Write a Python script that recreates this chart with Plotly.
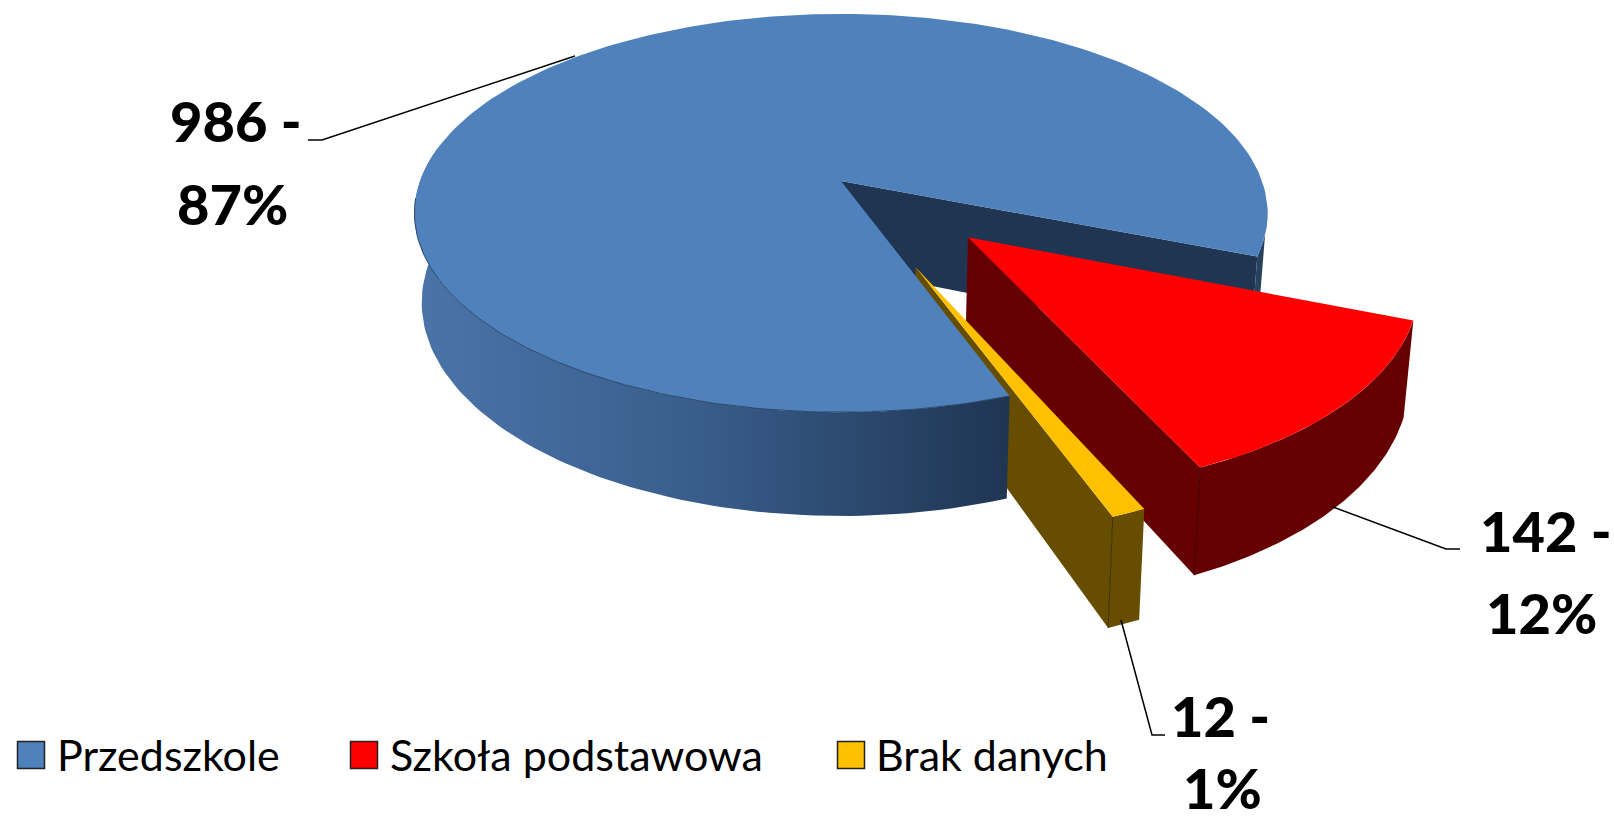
import numpy as np
import plotly.graph_objects as go

CATEGORIES = ["Przedszkole", "Szkoła podstawowa", "Brak danych"]
VALUES = [986, 142, 12]
PERCENT_LABELS = [87, 12, 1]
TOP_COLORS = ["#4f81bd", "#ff0000", "#ffc000"]
WALL_COLORS = ["#1f3552", "#660000", "#664d00"]
EXPLODE = [0.0, 0.40, 0.445]

W, H = 1614, 821
CX, CY, A, B, K = 841, 181, 421, 194, 0.161
DEPTH, BOTTOM_SCALE = 87, 0.983
FIRST_ANGLE = 21.5
FONT = "Lato"


def project(u, v, low=False):
    w = 1 / (1 - K * v)
    x = A * u * w
    y = B * v * w
    if low:
        return CX + x * BOTTOM_SCALE, CY + y + DEPTH * w
    return CX + x, CY + y


total = sum(VALUES)
red_sweep = VALUES[1] / total * 360
yellow_sweep = VALUES[2] / total * 360
blue_sweep = VALUES[0] / total * 360
ANGLES = {
    1: (FIRST_ANGLE, FIRST_ANGLE + red_sweep),
    2: (FIRST_ANGLE + red_sweep, FIRST_ANGLE + red_sweep + yellow_sweep),
    0: (FIRST_ANGLE + red_sweep + yellow_sweep, FIRST_ANGLE + red_sweep + yellow_sweep + blue_sweep),
}


def offset(i):
    mid = np.radians(sum(ANGLES[i]) / 2)
    return EXPLODE[i] * np.cos(mid), EXPLODE[i] * np.sin(mid)


def arc(i, t0, t1, low=False, n=90):
    ou, ov = offset(i)
    ts = np.radians(np.linspace(t0, t1, n))
    pts = [project(ou + np.cos(t), ov + np.sin(t), low) for t in ts]
    return [p[0] for p in pts], [p[1] for p in pts]


def centre(i, low=False):
    ou, ov = offset(i)
    return project(ou, ov, low)


def poly(xs, ys, color, gradient=None):
    kw = dict(fillgradient=gradient) if gradient else dict(fillcolor=color)
    return go.Scatter(x=list(xs) + [xs[0]], y=list(ys) + [ys[0]], mode="lines", fill="toself",
                      line=dict(width=0, color=color), hoverinfo="skip", showlegend=False, **kw)


def radial_wall(i, angle, color):
    tx, ty = arc(i, angle, angle, n=1)
    bx, by = arc(i, angle, angle, low=True, n=1)
    c, cl = centre(i), centre(i, True)
    return poly([c[0], tx[0], bx[0], cl[0]], [c[1], ty[0], by[0], cl[1]], color)


def outer_wall(i, t0, t1, color, gradient=None):
    tx, ty = arc(i, t0, t1)
    bx, by = arc(i, t0, t1, low=True)
    return poly(tx + bx[::-1], ty + by[::-1], color, gradient)


def top_face(i):
    t0, t1 = ANGLES[i]
    tx, ty = arc(i, t0, t1, n=240)
    c = centre(i)
    return poly([c[0]] + tx, [c[1]] + ty, TOP_COLORS[i])


def corner_line(i, ang, col):
    tx, ty = arc(i, ang, ang, n=1)
    bx, by = arc(i, ang, ang, low=True, n=1)
    return go.Scatter(x=[tx[0], bx[0]], y=[ty[0], by[0]], mode="lines",
                      line=dict(color=col, width=1), hoverinfo="skip", showlegend=False)


fig = go.Figure()
b0, b1 = ANGLES[0]
r0, r1 = ANGLES[1]
y0, y1 = ANGLES[2]

# inner wall of the gap and the far-right sliver of the blue slice
fig.add_trace(radial_wall(0, b1, WALL_COLORS[0]))
fig.add_trace(outer_wall(0, b1 - 14, b1, "#27425f"))

# red slice
fig.add_trace(radial_wall(1, r1, WALL_COLORS[1]))
fig.add_trace(outer_wall(1, r0, r1, WALL_COLORS[1]))
fig.add_trace(top_face(1))
fig.add_trace(corner_line(1, r1, "#3a0000"))

# yellow walls, hidden by the blue slice where they pass behind it
fig.add_trace(radial_wall(2, y1, WALL_COLORS[2]))
fig.add_trace(outer_wall(2, y0, y1, WALL_COLORS[2]))
fig.add_trace(corner_line(2, y1, "#3f3000"))

# blue slice front
fig.add_trace(outer_wall(0, b0, 190, "#3a6090", gradient=dict(
    type="horizontal",
    colorscale=[[0, "#4a74a8"], [0.45, "#3a5f8e"], [1, "#1f3552"]])))
fig.add_trace(top_face(0))
ex, ey = arc(0, b0, 175)
fig.add_trace(go.Scatter(x=ex, y=ey, mode="lines", line=dict(color="#2b4768", width=1),
                         hoverinfo="skip", showlegend=False))

# yellow top lies over the blue edge
fig.add_trace(top_face(2))

# leader lines
LEADERS = [
    ([308, 322, 575], [140, 140, 56]),
    ([1333, 1446, 1460], [507, 549, 549]),
    ([1121, 1152, 1165], [620, 735, 735]),
]
for lx, ly in LEADERS:
    fig.add_trace(go.Scatter(x=lx, y=ly, mode="lines", line=dict(color="black", width=1.5),
                             hoverinfo="skip", showlegend=False))

annotations = []


def label(x, y, text, size, anchor="center", weight=400):
    annotations.append(dict(x=x, y=y, text=text, showarrow=False,
                            xanchor=anchor, yanchor="middle", xref="x", yref="y",
                            font=dict(family=FONT, size=size, color="black", weight=weight)))


LABEL_POS = [((236, 120), (232, 203)), ((1546, 530), (1541, 612)), ((1220, 715), (1222, 787))]
for i, (first, second) in enumerate(LABEL_POS):
    label(first[0], first[1], f"{VALUES[i]} -", 56, weight=900)
    label(second[0], second[1], f"{PERCENT_LABELS[i]}%", 56, weight=900)

# legend
SWATCH_X = [31, 364, 851]
TEXT_X = [55, 388, 874]
LEGEND_Y = 755
fig.add_trace(go.Scatter(x=SWATCH_X, y=[LEGEND_Y] * 3, mode="markers",
                         marker=dict(symbol="square", size=27, color=TOP_COLORS,
                                     line=dict(color="#222222", width=1.5)),
                         hovertext=CATEGORIES, hoverinfo="text", showlegend=False))
for tx, name in zip(TEXT_X, CATEGORIES):
    label(tx, LEGEND_Y - 1, name, 43, anchor="left")

fig.update_layout(
    width=W, height=H, margin=dict(l=0, r=0, t=0, b=0),
    paper_bgcolor="white", plot_bgcolor="white",
    xaxis=dict(range=[0, W], visible=False, fixedrange=True),
    yaxis=dict(range=[H, 0], visible=False, fixedrange=True),
    annotations=annotations, showlegend=False,
)
fig.write_html("out.html", config=dict(displayModeBar=False),
               post_script="document.body.style.margin='0';")
